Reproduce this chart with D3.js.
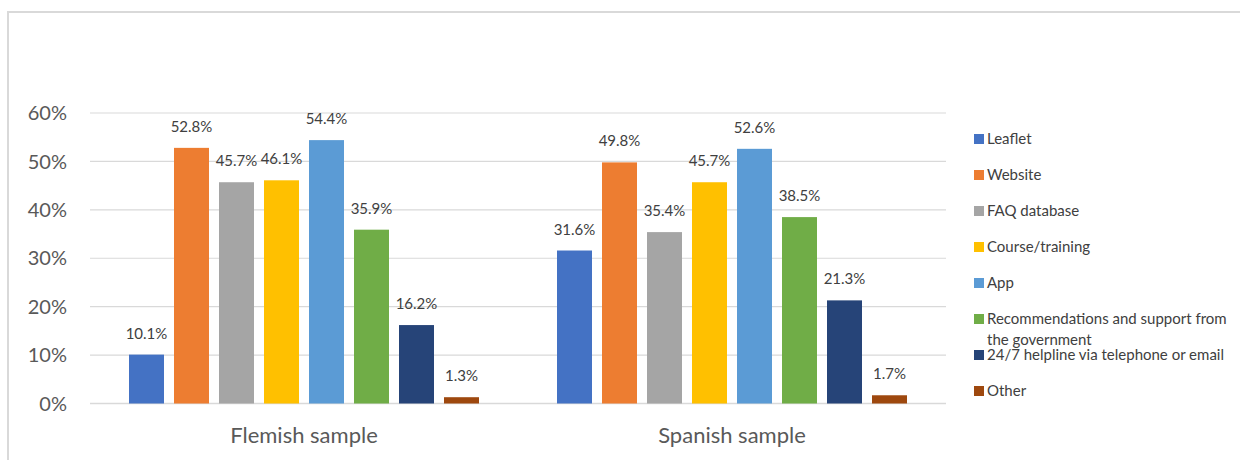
<!DOCTYPE html>
<head>
  <meta charset="utf-8">
  <script src="https://d3js.org/d3.v7.min.js"></script>
  <style>
    body { margin:0; background:#fff; }
  </style>
</head>
<body>
<script>
  // chart data
  const samples = ['Flemish sample', 'Spanish sample'];
  const channels = ['Leaflet', 'Website', 'FAQ database', 'Course/training', 'App',
                    'Recommendations and support from the government',
                    '24/7 helpline via telephone or email', 'Other'];
  const flemish = [10.1, 52.8, 45.7, 46.1, 54.4, 35.9, 16.2, 1.3];
  const spanish = [31.6, 49.8, 35.4, 45.7, 52.6, 38.5, 21.3, 1.7];
  const yTicks = [0, 10, 20, 30, 40, 50, 60];
  const colors = ['#4472c4', '#ed7d31', '#a5a5a5', '#ffc000', '#5b9bd5', '#70ad47', '#264478', '#9e480e'];

  const values = { 'Flemish sample': flemish, 'Spanish sample': spanish };

  const W = 1240, H = 460;
  const font = 'Lato, "Open Sans", sans-serif';

  const svg = d3.select('body').append('svg')
      .attr('width', W).attr('height', H);

  // chart frame (only top + left edges show)
  svg.append('line').attr('x1', 7).attr('x2', W).attr('y1', 12).attr('y2', 12)
     .style('stroke', '#d9d9d9').style('stroke-width', 2);
  svg.append('line').attr('x1', 8).attr('x2', 8).attr('y1', 11).attr('y2', H)
     .style('stroke', '#d9d9d9').style('stroke-width', 2);

  const x0 = d3.scaleBand().domain(samples).range([90, 946]);
  const y = d3.scaleLinear().domain([0, 60]).range([403.5, 113]);

  // bars inside a category: 35px bar, 10px gap
  const groupW = 350;
  const x1 = d3.scaleBand().domain(channels)
      .range([0, groupW]).paddingInner(10 / 45);

  // gridlines
  svg.append('g').selectAll('line')
    .data(yTicks).enter().append('line')
    .attr('x1', 90).attr('x2', 946)
    .attr('y1', d => y(d)).attr('y2', d => y(d))
    .style('stroke', '#d9d9d9').style('stroke-width', d => d === 0 ? 1.5 : 1.2);

  // y labels
  svg.append('g').selectAll('text')
    .data(yTicks).enter().append('text')
    .attr('x', 67).attr('y', d => y(d))
    .attr('dy', '0.36em')
    .attr('text-anchor', 'end')
    .text(d => d + '%')
    .style('font-family', font).style('font-size', '20px').style('fill', '#595959');

  const groups = svg.append('g').selectAll('g')
    .data(samples).enter().append('g')
    .attr('transform', d => `translate(${x0(d) + (x0.bandwidth() - groupW) / 2},0)`);

  groups.selectAll('rect')
    .data(s => values[s].map((v, i) => ({ ch: channels[i], v: v, i: i })))
    .enter().append('rect')
    .attr('x', d => x1(d.ch))
    .attr('width', x1.bandwidth())
    .attr('y', d => y(d.v))
    .attr('height', d => y(0) - y(d.v))
    .style('fill', d => colors[d.i]);

  groups.selectAll('text')
    .data(s => values[s].map((v, i) => ({ ch: channels[i], v: v, i: i })))
    .enter().append('text')
    .attr('x', d => x1(d.ch) + x1.bandwidth() / 2)
    .attr('y', d => y(d.v) - 16)
    .attr('text-anchor', 'middle')
    .text(d => d.v.toFixed(1) + '%')
    .style('font-family', font).style('font-size', '15px').style('fill', '#404040');

  // category labels
  svg.append('g').selectAll('text')
    .data(samples).enter().append('text')
    .attr('x', d => x0(d) + x0.bandwidth() / 2)
    .attr('y', 443)
    .attr('text-anchor', 'middle')
    .text(d => d)
    .style('font-family', font).style('font-size', '22px').style('fill', '#595959');

  // legend
  const legend = svg.append('g').attr('transform', 'translate(974, 0)');
  const rows = legend.selectAll('g')
    .data(channels).enter().append('g')
    .attr('transform', (d, i) => `translate(0, ${139 + i * 36})`);

  rows.append('rect')
    .attr('x', 0).attr('y', -5).attr('width', 10).attr('height', 10)
    .style('fill', (d, i) => colors[i]);

  rows.append('text')
    .attr('x', 13)
    .attr('dy', '0.36em')
    .style('font-family', font).style('font-size', '15px').style('fill', '#404040')
    .each(function(d) {
      const t = d3.select(this);
      if (d.startsWith('Recommendations')) {
        t.append('tspan').attr('x', 13).text('Recommendations and support from');
        t.append('tspan').attr('x', 13).attr('dy', '1.35em').text('the government');
      } else {
        t.text(d);
      }
    });
</script>
</body>
